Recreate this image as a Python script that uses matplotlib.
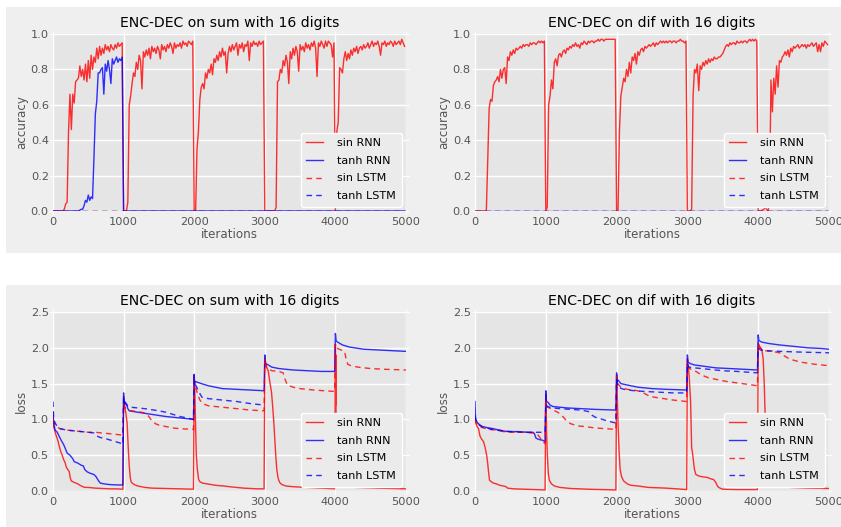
import numpy as np
import matplotlib
matplotlib.use("Agg")
import matplotlib.pyplot as plt
from matplotlib.patches import Rectangle

# ---------------- data ----------------
acc_iters = np.arange(0, 5000, 20)

# accuracy, "sum" task
acc_sum_sin_rnn = [
    0, 0, 0, 0, 0, 0, 0, 0, 0.01, 0.04,
    0.05, 0.45, 0.66, 0.46, 0.66, 0.61, 0.73, 0.74, 0.75, 0.82,
    0.76, 0.80, 0.74, 0.83, 0.73, 0.85, 0.75, 0.88, 0.80, 0.87,
    0.84, 0.92, 0.86, 0.93, 0.88, 0.92, 0.89, 0.94, 0.91, 0.93,
    0.90, 0.94, 0.92, 0.91, 0.94, 0.92, 0.95, 0.93, 0.94, 0.95,
    0, 0, 0, 0.05, 0.60, 0.65, 0.72, 0.78, 0.76, 0.84,
    0.80, 0.88, 0.85, 0.69, 0.90, 0.87, 0.91, 0.88, 0.92, 0.86,
    0.93, 0.90, 0.92, 0.89, 0.93, 0.91, 0.86, 0.94, 0.91, 0.93,
    0.90, 0.94, 0.92, 0.95, 0.93, 0.89, 0.95, 0.92, 0.94, 0.93,
    0.95, 0.92, 0.96, 0.94, 0.95, 0.93, 0.96, 0.95, 0.94, 0.96,
    0, 0, 0.35, 0.45, 0.63, 0.70, 0.72, 0.69, 0.78, 0.75,
    0.80, 0.78, 0.83, 0.77, 0.86, 0.84, 0.88, 0.85, 0.90, 0.87,
    0.92, 0.88, 0.90, 0.78, 0.89, 0.93, 0.90, 0.94, 0.91, 0.93,
    0.95, 0.88, 0.94, 0.92, 0.95, 0.90, 0.94, 0.93, 0.96, 0.85,
    0.95, 0.93, 0.96, 0.94, 0.95, 0.93, 0.96, 0.94, 0.95, 0.96,
    0, 0, 0, 0, 0, 0, 0, 0, 0.02, 0.73,
    0.74, 0.80, 0.78, 0.85, 0.82, 0.88, 0.84, 0.72, 0.90, 0.86,
    0.92, 0.88, 0.93, 0.90, 0.79, 0.94, 0.91, 0.93, 0.90, 0.95,
    0.92, 0.94, 0.91, 0.95, 0.93, 0.96, 0.92, 0.76, 0.95, 0.93,
    0.96, 0.94, 0.92, 0.96, 0.93, 0.96, 0.95, 0.94, 0.87, 0.95,
    0, 0.45, 0.50, 0.81, 0.80, 0.78, 0.86, 0.90, 0.85, 0.89,
    0.86, 0.91, 0.88, 0.92, 0.90, 0.93, 0.89, 0.92, 0.93, 0.91,
    0.94, 0.92, 0.93, 0.95, 0.92, 0.94, 0.96, 0.93, 0.95, 0.94,
    0.96, 0.93, 0.88, 0.95, 0.94, 0.96, 0.93, 0.95, 0.94, 0.96,
    0.95, 0.93, 0.96, 0.94, 0.95, 0.96, 0.94, 0.97, 0.95, 0.93,
]
acc_sum_tanh_rnn = [
    0, 0, 0, 0, 0, 0, 0, 0, 0, 0,
    0, 0, 0, 0, 0, 0, 0, 0, 0, 0.005,
    0.01, 0.01, 0.03, 0.06, 0.05, 0.09, 0.06, 0.08, 0.07, 0.30,
    0.55, 0.62, 0.78, 0.78, 0.80, 0.81, 0.66, 0.83, 0.79, 0.85,
    0.80, 0.72, 0.86, 0.83, 0.85, 0.87, 0.84, 0.86, 0.85, 0.87,
] + [0.0] * 200
acc_sum_sin_lstm = [0.0] * 250
acc_sum_tanh_lstm = [0.0] * 250

# accuracy, "dif" task
acc_dif_sin_rnn = [
    0, 0, 0, 0, 0, 0, 0, 0, 0, 0.30,
    0.58, 0.63, 0.62, 0.71, 0.73, 0.74, 0.76, 0.73, 0.80, 0.75,
    0.80, 0.81, 0.72, 0.87, 0.85, 0.90, 0.88, 0.91, 0.89, 0.92,
    0.91, 0.92, 0.93, 0.92, 0.94, 0.93, 0.94, 0.94, 0.93, 0.95,
    0.94, 0.95, 0.95, 0.94, 0.95, 0.96, 0.95, 0.96, 0.95, 0.96,
    0, 0.02, 0.60, 0.65, 0.74, 0.69, 0.84, 0.86, 0.82, 0.88,
    0.89, 0.87, 0.90, 0.91, 0.89, 0.92, 0.91, 0.93, 0.92, 0.94,
    0.93, 0.95, 0.93, 0.94, 0.92, 0.95, 0.94, 0.96, 0.95, 0.94,
    0.96, 0.95, 0.96, 0.96, 0.95, 0.96, 0.96, 0.97, 0.96, 0.97,
    0.97, 0.96, 0.97, 0.97, 0.97, 0.97, 0.97, 0.97, 0.97, 0.97,
    0, 0, 0.45, 0.65, 0.70, 0.75, 0.73, 0.80, 0.76, 0.84,
    0.78, 0.87, 0.85, 0.89, 0.83, 0.90, 0.88, 0.91, 0.92, 0.90,
    0.93, 0.92, 0.93, 0.94, 0.93, 0.94, 0.95, 0.93, 0.95, 0.94,
    0.95, 0.96, 0.95, 0.96, 0.95, 0.96, 0.95, 0.96, 0.96, 0.95,
    0.96, 0.96, 0.95, 0.96, 0.96, 0.97, 0.96, 0.96, 0.95, 0.96,
    0, 0, 0, 0.01, 0.65, 0.80, 0.78, 0.83, 0.68, 0.82,
    0.80, 0.84, 0.82, 0.85, 0.83, 0.86, 0.84, 0.86, 0.85, 0.87,
    0.86, 0.86, 0.87, 0.87, 0.88, 0.89, 0.91, 0.93, 0.94, 0.93,
    0.95, 0.94, 0.95, 0.95, 0.94, 0.96, 0.95, 0.95, 0.96, 0.95,
    0.96, 0.96, 0.95, 0.96, 0.97, 0.96, 0.97, 0.96, 0.97, 0.96,
    0, 0, 0, 0.005, 0.01, 0.02, 0.01, 0, 0.05, 0.74,
    0.56, 0.75, 0.66, 0.82, 0.70, 0.85, 0.84, 0.87, 0.88, 0.90,
    0.88, 0.91, 0.87, 0.92, 0.90, 0.93, 0.92, 0.93, 0.94, 0.92,
    0.93, 0.94, 0.93, 0.94, 0.92, 0.94, 0.93, 0.94, 0.95, 0.93,
    0.94, 0.95, 0.90, 0.94, 0.90, 0.95, 0.93, 0.96, 0.95, 0.94,
]
acc_dif_tanh_rnn = [0.0] * 250
acc_dif_sin_lstm = [0.0] * 250
acc_dif_tanh_lstm = [0.0] * 250

# loss, "sum" task  (iteration, value) pairs
loss_sum_sin_rnn_x = [0, 10, 30, 50, 70, 90, 110, 130, 150, 170, 190, 210, 230, 245, 260, 300, 350, 400, 450, 500, 600, 700, 800, 900, 990,
                      1000, 1010, 1030, 1050, 1065, 1080, 1095, 1110, 1150, 1200, 1300, 1400, 1600, 1800, 1990,
                      2000, 2008, 2020, 2030, 2045, 2063, 2080, 2120, 2180, 2300, 2415, 2500, 2700, 2900, 2990,
                      3000, 3020, 3050, 3075, 3095, 3110, 3127, 3140, 3155, 3170, 3188, 3210, 3240, 3300, 3400, 3600, 3800, 3990,
                      4000, 4004, 4007, 4011, 4050, 4100, 4300, 4600, 5000]
loss_sum_sin_rnn_y = [1.05, 0.9, 0.82, 0.76, 0.7, 0.62, 0.55, 0.5, 0.44, 0.4, 0.33, 0.3, 0.27, 0.18, 0.14, 0.12, 0.1, 0.07, 0.05, 0.05, 0.04, 0.035, 0.03, 0.03, 0.025,
                      1.32, 1.2, 1.1, 0.95, 0.62, 0.35, 0.18, 0.12, 0.09, 0.07, 0.05, 0.04, 0.035, 0.03, 0.025,
                      1.62, 1.45, 0.9, 0.5, 0.3, 0.16, 0.13, 0.11, 0.1, 0.08, 0.07, 0.06, 0.04, 0.03, 0.03,
                      1.85, 1.75, 1.67, 1.5, 1.38, 1.2, 0.97, 0.75, 0.5, 0.3, 0.18, 0.12, 0.09, 0.07, 0.06, 0.05, 0.04, 0.03,
                      2.05, 1.2, 1.9, 0.08, 0.07, 0.06, 0.05, 0.04, 0.03]
loss_sum_tanh_rnn_x = [0, 10, 30, 60, 90, 120, 150, 180, 200, 240, 280, 300, 350, 400, 430, 450, 480, 520, 580, 610, 640, 670, 720, 800, 900, 990,
                       1000, 1005, 1015, 1040, 1060, 1080, 1200, 1400, 1600, 1800, 1990,
                       2000, 2005, 2015, 2100, 2200, 2400, 2600, 2800, 2990,
                       3000, 3010, 3050, 3100, 3200, 3400, 3600, 3800, 3990,
                       4000, 4010, 4030, 4100, 4200, 4400, 4600, 4800, 5000]
loss_sum_tanh_rnn_y = [1.1, 0.95, 0.85, 0.82, 0.76, 0.7, 0.65, 0.58, 0.53, 0.5, 0.45, 0.41, 0.39, 0.36, 0.35, 0.3, 0.27, 0.25, 0.23, 0.2, 0.15, 0.11, 0.1, 0.09, 0.085, 0.085,
                       1.37, 1.2, 1.25, 1.22, 1.15, 1.12, 1.1, 1.07, 1.04, 1.02, 1.0,
                       1.63, 1.5, 1.53, 1.5, 1.47, 1.43, 1.42, 1.41, 1.4,
                       1.9, 1.78, 1.76, 1.73, 1.71, 1.69, 1.68, 1.67, 1.67,
                       2.2, 2.1, 2.08, 2.04, 2.01, 1.98, 1.97, 1.96, 1.95]
loss_sum_sin_lstm_x = [0, 20, 50, 100, 200, 300, 400, 500, 600, 700, 800, 900, 990,
                       1000, 1030, 1100, 1200, 1300, 1350, 1400, 1450, 1500, 1600, 1700, 1800, 1990,
                       2000, 2020, 2050, 2080, 2120, 2200, 2400, 2600, 2800, 2990,
                       3000, 3020, 3100, 3200, 3260, 3290, 3320, 3400, 3500, 3700, 3990,
                       4000, 4010, 4080, 4130, 4150, 4175, 4220, 4320, 4500, 4700, 5000]
loss_sum_sin_lstm_y = [1.0, 0.95, 0.9, 0.87, 0.85, 0.84, 0.83, 0.82, 0.82, 0.81, 0.8, 0.79, 0.78,
                       1.22, 1.15, 1.12, 1.11, 1.09, 1.05, 0.98, 0.94, 0.92, 0.9, 0.88, 0.87, 0.86,
                       1.55, 1.45, 1.35, 1.27, 1.22, 1.19, 1.17, 1.15, 1.13, 1.12,
                       1.85, 1.72, 1.68, 1.67, 1.65, 1.55, 1.48, 1.45, 1.43, 1.41, 1.39,
                       2.05, 2.0, 1.97, 1.95, 1.85, 1.77, 1.75, 1.73, 1.71, 1.7, 1.69]
loss_sum_tanh_lstm_x = [0, 10, 30, 60, 100, 200, 300, 400, 500, 580, 620, 660, 750, 850, 950, 990,
                        1000, 1020, 1060, 1100, 1300, 1500, 1600, 1700, 1800, 1900, 1990,
                        2000, 2020, 2050, 2080, 2110, 2200, 2400, 2600, 2800, 2990]
loss_sum_tanh_lstm_y = [1.25, 1.0, 0.95, 0.9, 0.87, 0.85, 0.84, 0.83, 0.82, 0.81, 0.77, 0.75, 0.73, 0.7, 0.67, 0.65,
                        1.3, 1.22, 1.19, 1.17, 1.15, 1.12, 1.1, 1.07, 1.04, 1.02, 1.0,
                        1.55, 1.48, 1.42, 1.36, 1.31, 1.29, 1.27, 1.25, 1.22, 1.2]

# loss, "dif" task
loss_dif_sin_rnn_x = [0, 10, 30, 50, 70, 90, 120, 140, 165, 180, 190, 205, 230, 260, 300, 350, 400, 440, 460, 550, 700, 850, 990,
                      1000, 1005, 1012, 1022, 1035, 1050, 1080, 1120, 1200, 1350, 1600, 1800, 1990,
                      2000, 2008, 2020, 2035, 2050, 2070, 2100, 2150, 2200, 2300, 2450, 2700, 2850, 2990,
                      3000, 3010, 3025, 3045, 3060, 3070, 3085, 3100, 3120, 3160, 3200, 3280, 3330, 3370, 3400, 3430, 3460, 3500, 3700, 3990,
                      4000, 4020, 4050, 4070, 4085, 4100, 4115, 4130, 4150, 4200, 4300, 4450, 4700, 5000]
loss_dif_sin_rnn_y = [1.05, 0.95, 0.9, 0.87, 0.77, 0.73, 0.69, 0.62, 0.5, 0.38, 0.28, 0.15, 0.13, 0.11, 0.1, 0.08, 0.07, 0.06, 0.04, 0.03, 0.025, 0.02, 0.015,
                      1.35, 1.2, 0.8, 0.5, 0.25, 0.15, 0.1, 0.07, 0.05, 0.035, 0.025, 0.02, 0.015,
                      1.62, 1.4, 0.95, 0.55, 0.3, 0.2, 0.14, 0.1, 0.08, 0.07, 0.05, 0.04, 0.03, 0.02,
                      1.85, 1.75, 1.6, 1.25, 0.6, 0.55, 0.42, 0.3, 0.23, 0.21, 0.2, 0.19, 0.17, 0.16, 0.12, 0.06, 0.04, 0.025, 0.02, 0.02,
                      2.07, 2.02, 1.98, 1.85, 1.5, 1.0, 0.5, 0.25, 0.15, 0.1, 0.07, 0.05, 0.04, 0.035]
loss_dif_tanh_rnn_x = [0, 8, 30, 60, 100, 150, 200, 260, 300, 350, 400, 450, 600, 750, 820, 840, 860, 900, 950, 990,
                       1000, 1010, 1030, 1060, 1100, 1200, 1300, 1500, 1700, 1990,
                       2000, 2008, 2020, 2060, 2150, 2300, 2500, 2700, 2990,
                       3000, 3010, 3040, 3100, 3250, 3400, 3600, 3800, 3990,
                       4000, 4010, 4050, 4150, 4300, 4500, 4700, 4900, 5000]
loss_dif_tanh_rnn_y = [1.25, 1.0, 0.96, 0.93, 0.9, 0.89, 0.88, 0.87, 0.86, 0.85, 0.84, 0.83, 0.83, 0.82, 0.82, 0.8, 0.74, 0.72, 0.71, 0.69,
                       1.4, 1.25, 1.24, 1.2, 1.18, 1.17, 1.16, 1.15, 1.14, 1.13,
                       1.65, 1.53, 1.55, 1.5, 1.48, 1.45, 1.43, 1.42, 1.41,
                       1.9, 1.8, 1.78, 1.76, 1.74, 1.72, 1.71, 1.7, 1.69,
                       2.18, 2.1, 2.08, 2.06, 2.04, 2.02, 2.0, 1.99, 1.98]
loss_dif_sin_lstm_x = [0, 20, 60, 120, 200, 300, 400, 500, 600, 700, 800, 860, 900, 950, 990,
                       1000, 1010, 1050, 1100, 1150, 1200, 1250, 1300, 1350, 1450, 1550, 1700, 1850, 1990,
                       2000, 2015, 2060, 2150, 2300, 2400, 2470, 2600, 2800, 2990,
                       3000, 3010, 3050, 3120, 3200, 3300, 3400, 3550, 3700, 3850, 3990,
                       4000, 4020, 4080, 4200, 4300, 4380, 4450, 4600, 4800, 5000]
loss_dif_sin_lstm_y = [1.0, 0.95, 0.9, 0.88, 0.86, 0.85, 0.83, 0.82, 0.82, 0.82, 0.81, 0.81, 0.77, 0.7, 0.66,
                       1.25, 1.18, 1.16, 1.13, 1.11, 1.08, 1.03, 0.97, 0.94, 0.91, 0.9, 0.88, 0.87, 0.86,
                       1.6, 1.5, 1.45, 1.42, 1.4, 1.36, 1.32, 1.3, 1.27, 1.25,
                       1.8, 1.72, 1.7, 1.67, 1.62, 1.58, 1.56, 1.53, 1.51, 1.49, 1.47,
                       2.05, 2.0, 1.96, 1.95, 1.93, 1.88, 1.84, 1.8, 1.77, 1.75]
loss_dif_tanh_lstm_x = [0, 20, 60, 120, 200, 300, 400, 500, 700, 900, 990,
                        1000, 1020, 1100, 1200, 1350, 1500, 1600, 1650, 1700, 1800, 1900, 1990,
                        2000, 2020, 2100, 2250, 2400, 2600, 2800, 2990,
                        3000, 3020, 3100, 3300, 3500, 3700, 3990,
                        4000, 4030, 4100, 4300, 4600, 5000]
loss_dif_tanh_lstm_y = [1.05, 0.97, 0.92, 0.89, 0.87, 0.85, 0.84, 0.83, 0.82, 0.82, 0.82,
                        1.22, 1.18, 1.16, 1.15, 1.14, 1.13, 1.11, 1.06, 1.03, 1.0, 0.97, 0.95,
                        1.55, 1.45, 1.42, 1.4, 1.39, 1.38, 1.37, 1.37,
                        1.78, 1.73, 1.72, 1.7, 1.68, 1.67, 1.65,
                        2.0, 1.97, 1.96, 1.95, 1.94, 1.93]

series_labels = ["sin RNN", "tanh RNN", "sin LSTM", "tanh LSTM"]
titles = ["ENC-DEC on sum with 16 digits", "ENC-DEC on dif with 16 digits"]
x_ticks = [0, 1000, 2000, 3000, 4000, 5000]
acc_ticks = [0.0, 0.2, 0.4, 0.6, 0.8, 1.0]
loss_ticks = [0.0, 0.5, 1.0, 1.5, 2.0, 2.5]

# ---------------- style ----------------
plt.rcParams['font.family'] = ['DejaVu Sans']
W, H = 841, 527
fig = plt.figure(figsize=(W / 100, H / 100), dpi=100, facecolor='white')

for (y0, y1) in [(7, 253), (285, 527)]:
    fig.patches.append(Rectangle((6 / W, 1 - y1 / H), (W - 6) / W, (y1 - y0) / H,
                                 transform=fig.transFigure, facecolor='#efefef',
                                 edgecolor='none', zorder=-10))

styles = [dict(color='red', ls='-'), dict(color='blue', ls='-'),
          dict(color='red', ls='--', dashes=(4, 3)), dict(color='blue', ls='--', dashes=(4, 3))]


def make_ax(left, top, right, bottom):
    ax = fig.add_axes([left / W, 1 - bottom / H, (right - left) / W, (bottom - top) / H])
    ax.set_facecolor('#e5e5e5')
    for s in ax.spines.values():
        s.set_visible(False)
    ax.grid(True, color='white', lw=1.0)
    ax.set_axisbelow(True)
    ax.tick_params(which='both', direction='out', color='white', length=2.5,
                   labelcolor='#555555', labelsize=8.2, top=True, right=True)
    ax.tick_params(axis='y', pad=0.5)
    ax.tick_params(axis='x', pad=2.0)
    return ax


def finish(ax, title, ylabel, ylim, yticks):
    ax.set_xlim(0, 5000)
    ax.set_ylim(*ylim)
    ax.set_xticks(x_ticks)
    ax.set_yticks(yticks)
    ax.set_yticklabels([f"{t:.1f}" for t in yticks])
    ax.set_title(title, fontsize=10.1, color='black', pad=5)
    ax.set_xlabel("iterations", fontsize=8.6, color='#555555', labelpad=0.5)
    ax.set_ylabel(ylabel, fontsize=8.6, color='#555555', labelpad=2)
    leg = ax.legend(loc='lower right', fontsize=8.0, handlelength=1.55, handletextpad=1.25,
                    borderaxespad=0.4, labelspacing=0.68, borderpad=0.5, fancybox=True)
    leg.get_frame().set_facecolor('#ebebeb')
    leg.get_frame().set_edgecolor('white')
    leg.get_frame().set_alpha(1.0)


acc_sets = [
    [acc_sum_sin_rnn, acc_sum_tanh_rnn, acc_sum_sin_lstm, acc_sum_tanh_lstm],
    [acc_dif_sin_rnn, acc_dif_tanh_rnn, acc_dif_sin_lstm, acc_dif_tanh_lstm],
]
loss_sets = [
    [(loss_sum_sin_rnn_x, loss_sum_sin_rnn_y), (loss_sum_tanh_rnn_x, loss_sum_tanh_rnn_y),
     (loss_sum_sin_lstm_x, loss_sum_sin_lstm_y), (loss_sum_tanh_lstm_x, loss_sum_tanh_lstm_y)],
    [(loss_dif_sin_rnn_x, loss_dif_sin_rnn_y), (loss_dif_tanh_rnn_x, loss_dif_tanh_rnn_y),
     (loss_dif_sin_lstm_x, loss_dif_sin_lstm_y), (loss_dif_tanh_lstm_x, loss_dif_tanh_lstm_y)],
]

col_x = [(53, 406), (475, 829)]
for c in range(2):
    l, r = col_x[c]
    ax = make_ax(l, 34, r, 211)
    for vals, lab, st in zip(acc_sets[c], series_labels, styles):
        ax.plot(acc_iters, vals, lw=1.0, alpha=0.8, label=lab, **st)
    finish(ax, titles[c], "accuracy", (0, 1.0), acc_ticks)

    ax = make_ax(l, 312, r, 491)
    for (xs, ys), lab, st in zip(loss_sets[c], series_labels, styles):
        ax.plot(xs, ys, lw=1.0, alpha=0.8, label=lab, **st)
    finish(ax, titles[c], "loss", (0, 2.5), loss_ticks)

fig.savefig("out.png", dpi=100, facecolor='white')
